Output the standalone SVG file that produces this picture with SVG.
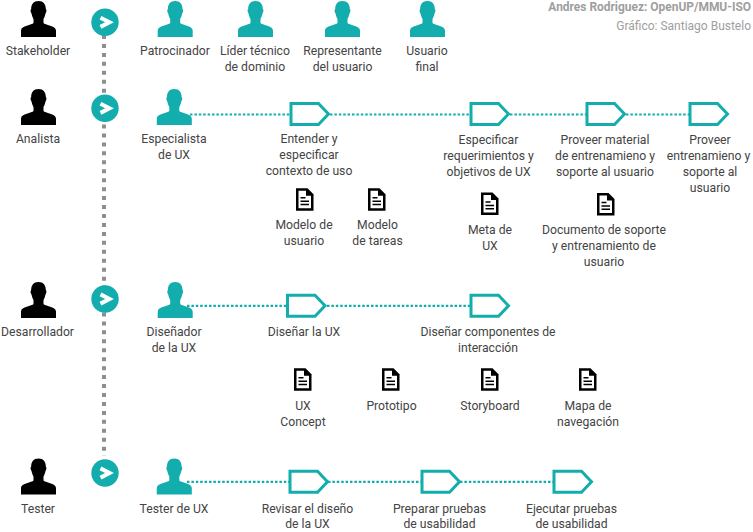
<svg xmlns="http://www.w3.org/2000/svg" width="753" height="532" viewBox="0 0 753 532">
<style>
text{font-family:Roboto,"Liberation Sans",sans-serif;font-size:12.2px;fill:#444;text-anchor:middle}
.cr{font-size:12px;fill:#9e9e9e;text-anchor:end}
.b{font-weight:700;font-size:11.95px}
.k{fill:#000}.t{fill:#13adad}
.dot{stroke:#13adad;stroke-width:2.200;stroke-dasharray:2.500 1.900;fill:none}
.vd{stroke:#8f8f8f;stroke-width:4;stroke-dasharray:4 4.950;fill:none}
.st{fill:#fff;stroke:#13adad;stroke-width:3}
</style>
<defs>
<path id="person" d="M0 0C5 0 7.300 3.500 7.300 8C8.300 8.500 8.100 11 7 12.500C6.500 15 5.700 16.800 5 18V22C6.200 24 17.500 24.500 17.500 29.500V36H-17.500V29.500C-17.500 24.500 -6.200 24 -5 22V18C-5.700 16.800 -6.500 15 -7 12.500C-8.100 11 -8.300 8.500 -7.300 8C-7.300 3.500 -5 0 0 0Z"/>
<g id="go"><circle r="13.700" fill="#13adad"/><path d="M-4.500 -4.600L4.500 0L-4.500 4.600" fill="none" stroke="#fff" stroke-width="4"/></g>
<path id="step" d="M0 0H27.500L37.500 10.500L27.500 21H0Z" class="st"/>
<g id="doc"><path d="M0 0H11.500L17.500 6V22.500H0Z" fill="#000"/><path d="M2.500 2.500H10V7.500H15V20H2.500Z" fill="#fff"/><path d="M4.500 9.500H9.500M4.500 13H13M4.500 16.300H13" stroke="#000" stroke-width="1.500"/></g>
</defs>
<g id="connectors">
<path class="vd" d="M104 35V456"/>
<path class="dot" d="M190 114.500H290M330 114.500H470M510 114.500H586M626 114.500H689"/>
<path class="dot" d="M187 305.800H287M327 305.800H470"/>
<path class="dot" d="M187 481.800H290M328 481.800H421M460 481.800H553"/>
</g>
<g id="credits"><text class="cr b" x="751" y="11">Andres Rodriguez: OpenUP/MMU-ISO</text><text class="cr" x="751" y="30">Gráfico: Santiago Bustelo</text></g>
<g id="r1">
<g id="stakeholder"><use href="#person" x="38.500" y="1" class="k"/><text x="38" y="55">Stakeholder</text></g>
<use id="go1" href="#go" x="105" y="22.300"/>
<g id="patrocinador"><use href="#person" x="175.200" y="1" class="t"/><text x="175" y="55">Patrocinador</text></g>
<g id="lider"><use href="#person" x="255.500" y="1" class="t"/><text x="255" y="55">Líder técnico</text><text x="255" y="71">de dominio</text></g>
<g id="representante"><use href="#person" x="342.500" y="1" class="t"/><text x="342.500" y="55">Representante</text><text x="342.500" y="71">del usuario</text></g>
<g id="usuario"><use href="#person" x="427.500" y="1" class="t"/><text x="427" y="55">Usuario</text><text x="427" y="71">final</text></g>
</g>
<g id="r2">
<g id="analista"><use href="#person" x="38.500" y="89" class="k"/><text x="38" y="143">Analista</text></g>
<use id="go2" href="#go" x="105" y="108.300"/>
<g id="especialista"><use href="#person" x="174.300" y="89" class="t"/><text x="174" y="143">Especialista</text><text x="174" y="159">de UX</text></g>
<g id="s1"><use href="#step" x="291" y="103.500"/><text x="309" y="143">Entender y</text><text x="309" y="159">especificar</text><text x="309" y="175">contexto de uso</text></g>
<g id="s2"><use href="#step" x="471" y="103.500"/><text x="488.500" y="144">Especificar</text><text x="488.500" y="160">requerimientos y</text><text x="488.500" y="176">objetivos de UX</text></g>
<g id="s3"><use href="#step" x="587" y="103.500"/><text x="605" y="144">Proveer material</text><text x="605" y="160">de entrenamieno y</text><text x="605" y="176">soporte al usuario</text></g>
<g id="s4"><use href="#step" x="690" y="103.500"/><text x="710" y="144">Proveer</text><text x="708.500" y="160">entrenamieno y</text><text x="710" y="176">soporte al</text><text x="710" y="192">usuario</text></g>
<g id="d1"><use href="#doc" x="296" y="188.300"/><text x="304" y="229">Modelo de</text><text x="304" y="245">usuario</text></g>
<g id="d2"><use href="#doc" x="368" y="188.300"/><text x="377.500" y="229">Modelo</text><text x="377.500" y="245">de tareas</text></g>
<g id="d3"><use href="#doc" x="481" y="192.500"/><text x="490" y="234">Meta de</text><text x="490" y="250">UX</text></g>
<g id="d4"><use href="#doc" x="597" y="193"/><text x="604" y="234">Documento de soporte</text><text x="604" y="250">y entrenamiento de</text><text x="604" y="266">usuario</text></g>
</g>
<g id="r3">
<g id="desarrollador"><use href="#person" x="38.500" y="282" class="k"/><text x="37.500" y="336">Desarrollador</text></g>
<use id="go3" href="#go" x="105" y="299"/>
<g id="disenador"><use href="#person" x="175.200" y="282" class="t"/><text x="174" y="336">Diseñador</text><text x="174" y="352">de la UX</text></g>
<g id="s5"><use href="#step" x="287.500" y="295.300"/><text x="304" y="336">Diseñar la UX</text></g>
<g id="s6"><use href="#step" x="471" y="295.300"/><text x="488" y="336">Diseñar componentes de</text><text x="488" y="352">interacción</text></g>
<g id="d5"><use href="#doc" x="294" y="368.300"/><text x="303" y="410">UX</text><text x="303" y="426">Concept</text></g>
<g id="d6"><use href="#doc" x="382" y="368.300"/><text x="391.500" y="410">Prototipo</text></g>
<g id="d7"><use href="#doc" x="481" y="368.300"/><text x="490" y="410">Storyboard</text></g>
<g id="d8"><use href="#doc" x="579" y="368.300"/><text x="588" y="410">Mapa de</text><text x="588" y="426">navegación</text></g>
</g>
<g id="r4">
<g id="tester"><use href="#person" x="38.500" y="458.500" class="k"/><text x="38" y="513">Tester</text></g>
<use id="go4" href="#go" x="105" y="473"/>
<g id="testerux"><use href="#person" x="174.300" y="458.500" class="t"/><text x="174" y="513">Tester de UX</text></g>
<g id="s7"><use href="#step" x="290" y="471.300"/><text x="307.500" y="513">Revisar el diseño</text><text x="307.500" y="528">de la UX</text></g>
<g id="s8"><use href="#step" x="422" y="471.300"/><text x="439.500" y="513">Preparar pruebas</text><text x="439.500" y="528">de usabilidad</text></g>
<g id="s9"><use href="#step" x="554" y="471.300"/><text x="571.500" y="513">Ejecutar pruebas</text><text x="571.500" y="528">de usabilidad</text></g>
</g>
</svg>
